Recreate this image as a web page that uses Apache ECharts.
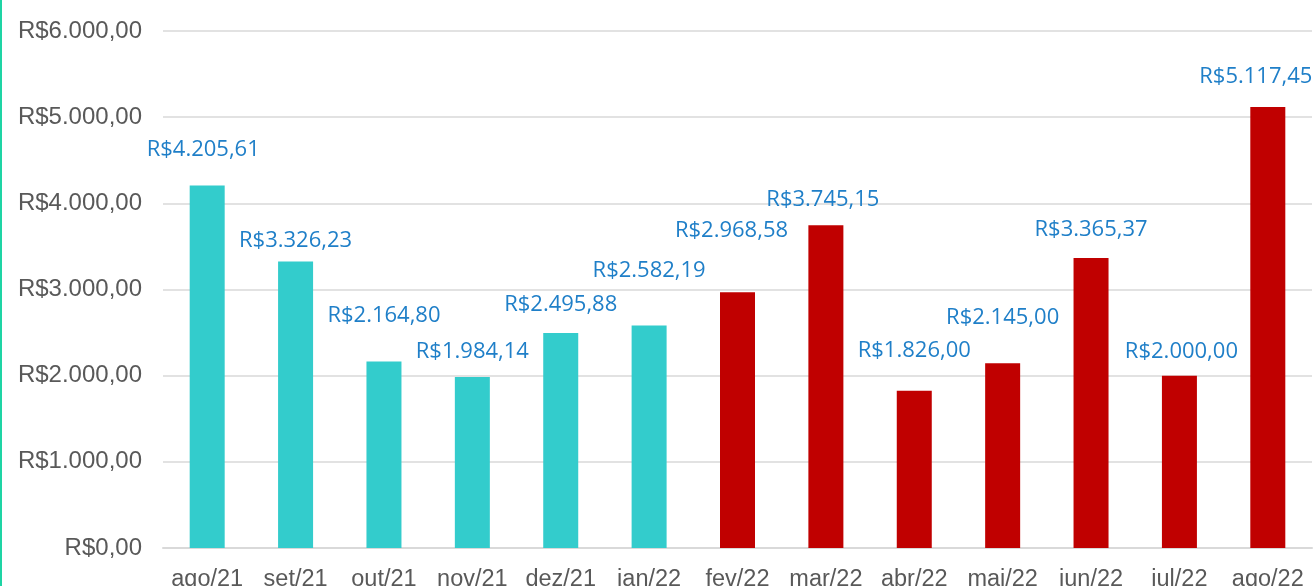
<!DOCTYPE html>
<html>
<head>
<meta charset="utf-8">
<script src="https://cdn.jsdelivr.net/npm/echarts@6/dist/echarts.min.js"></script>
<style>
  html, body { margin: 0; padding: 0; background: #fff; }
  #chart { width: 1316px; height: 586px; }
</style>
</head>
<body>
<div id="chart"></div>
<script>
// meses e valores
const months = ['ago/21', 'set/21', 'out/21', 'nov/21', 'dez/21', 'jan/22', 'fev/22', 'mar/22', 'abr/22', 'mai/22', 'jun/22', 'jul/22', 'ago/22']
const values = [4205.61, 3326.23, 2164.80, 1984.14, 2495.88, 2582.19, 2968.58, 3745.15, 1826.00, 2145.00, 3365.37, 2000.00, 5117.45]
const yTicks = [0, 1000, 2000, 3000, 4000, 5000, 6000]

const teal = '#33cccc'
const red = '#c00000'
// deslocamento dos rótulos (como o Excel afastou alguns)
const labelShift = {
  'ago/21': [-4, -11], 'set/21': [0, 4], 'out/21': [0, -21], 'nov/21': [0, 0],
  'dez/21': [0, -3], 'jan/22': [0, -30], 'fev/22': [-6, -36], 'mar/22': [-3, -1],
  'abr/22': [0, -15], 'mai/22': [0, -20], 'jun/22': [0, -3], 'jul/22': [2, 1],
  'ago/22': [-12, -5]
}

function brl (v, dec) {
  const parts = v.toFixed(dec).split('.')
  const int = parts[0].replace(/\B(?=(\d{3})+(?!\d))/g, '.')
  return 'R$' + int + ',' + parts[1]
}

const chart = echarts.init(document.getElementById('chart'))
chart.setOption({
  animation: false,
  graphic: [{
    type: 'rect',
    shape: { x: 0, y: 0, width: 2, height: 586 },
    style: { fill: '#1ed4a4' }
  }],
  grid: { left: 163, right: 4, top: 31, bottom: 38, containLabel: false, outerBoundsMode: 'none' },
  xAxis: {
    type: 'category',
    data: months,
    axisTick: { show: false },
    axisLine: { lineStyle: { color: '#d9d9d9', width: 2 } },
    axisLabel: {
      color: '#595959',
      fontFamily: 'Liberation Sans, Arial',
      fontSize: 23.5,
      margin: 20,
      interval: 0
    }
  },
  yAxis: {
    type: 'value',
    min: yTicks[0],
    max: yTicks[yTicks.length - 1],
    interval: 1000,
    axisLine: { show: false },
    axisTick: { show: false },
    splitLine: { lineStyle: { color: '#d9d9d9', width: 1.5 } },
    axisLabel: {
      color: '#595959',
      fontFamily: 'Liberation Sans, Arial',
      fontSize: 24,
      margin: 21,
      formatter: v => brl(v, 2)
    }
  },
  series: [{
    type: 'bar',
    barWidth: 35,
    data: values.map((v, i) => ({
      value: v,
      itemStyle: { color: i < 6 ? teal : red },
      label: { offset: labelShift[months[i]] }
    })),
    label: {
      show: true,
      position: 'top',
      distance: 14,
      color: '#1f7fc8',
      fontFamily: 'Open Sans',
      fontSize: 22,
      lineHeight: 22,
      formatter: p => brl(p.value, 2)
    }
  }]
})
</script>
</body>
</html>
